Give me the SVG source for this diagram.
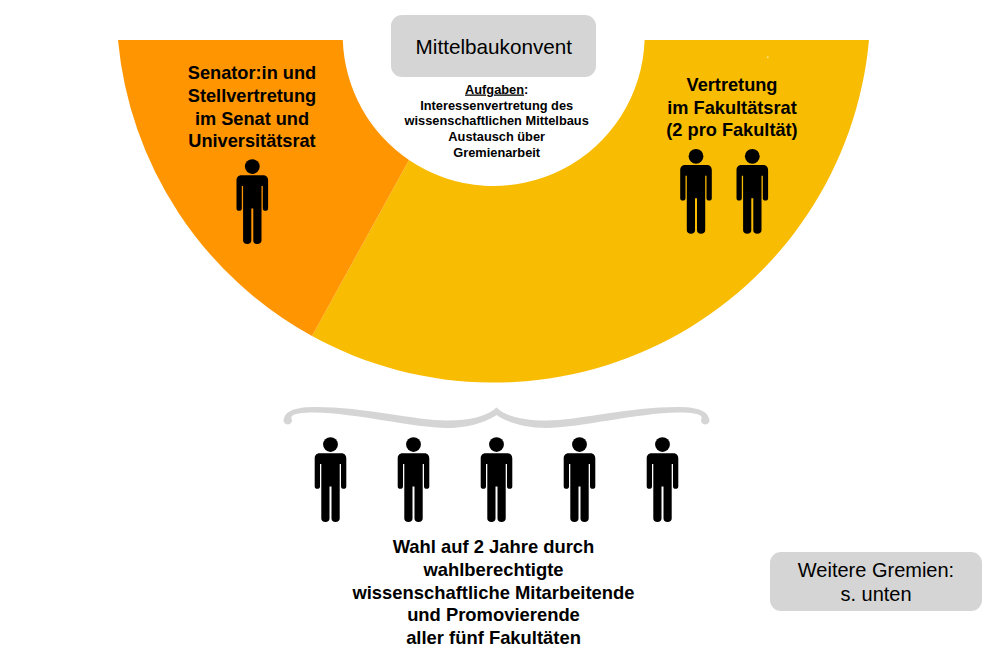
<svg xmlns="http://www.w3.org/2000/svg" width="992" height="663" viewBox="0 0 992 663">
<style>
text{font-family:"Liberation Sans",Arial,sans-serif;fill:#000;text-anchor:middle}
.h{font-size:18.2px;font-weight:bold}
.s{font-size:12.8px;font-weight:bold}
.b{font-size:20px}
.t{font-size:20.7px}
.w{font-size:18.4px;font-weight:bold}
.box{fill:#d5d5d5}
</style>
<defs>
<symbol id="p" overflow="visible">
<circle cx="0" cy="-77.400" r="7.400" fill="#000"/>
<path d="M-11-68.700H11C14-68.700 15.800-66.500 15.800-63.500V-35.500C15.800-34 14.800-33.200 13.200-33.200C11.500-33.200 10.500-34 10.500-35.500V-58H9.200V-3.500C9.200-1.200 7.500 0 5 0C2.500 0 1-1.200 1-3.500V-35.500H-1V-3.500C-1-1.200-2.500 0-5 0C-7.500 0-9.200-1.200-9.200-3.500V-58H-10.500V-35.500C-10.500-34-11.500-33.200-13.200-33.200C-14.800-33.200-15.800-34-15.800-35.500V-63.500C-15.800-66.500-14-68.700-11-68.700Z" fill="#000"/>
</symbol>
</defs>
<rect width="992" height="663" fill="#fff"/>
<g id="arc-yellow"><path d="M644.600 40H869A377 377 0 0 1 312 336L409 160A151 151 0 0 0 644.600 40Z" fill="#f8bc03"/><rect x="767" y="56.500" width="1.500" height="1.500" fill="#fde7a0"/></g>
<g id="arc-orange"><path d="M118 40H342.800A151 151 0 0 0 409 160L312 336A377 377 0 0 1 118 40Z" fill="#ff9500"/></g>
<g id="mittelbaukonvent"><rect class="box" x="391" y="15" width="205" height="62" rx="11"/><text class="t" x="493.800" y="53.500">Mittelbaukonvent</text></g>
<g id="aufgaben">
<text class="s" x="496.700" y="93.500"><tspan text-decoration="underline">Aufgaben</tspan>:</text>
<text class="s" x="496.700" y="109.500">Interessenvertretung des</text>
<text class="s" x="496.700" y="125">wissenschaftlichen Mittelbaus</text>
<text class="s" x="496.700" y="141">Austausch über</text>
<text class="s" x="496.700" y="157">Gremienarbeit</text>
</g>
<g id="senator">
<text class="h" x="252" y="79">Senator:in und</text>
<text class="h" x="252" y="102">Stellvertretung</text>
<text class="h" x="252" y="124.500">im Senat und</text>
<text class="h" x="252" y="147">Universitätsrat</text>
<use href="#p" x="252.300" y="244"/>
</g>
<g id="vertretung">
<text class="h" x="732" y="91">Vertretung</text>
<text class="h" x="732" y="113.500">im Fakultätsrat</text>
<text class="h" x="732" y="136">(2 pro Fakultät)</text>
<use href="#p" x="696" y="233.700"/>
<use href="#p" x="752.300" y="233.700"/>
</g>
<g id="klammer"><path d="M496.500 407.500C488 416 470 420.500 447 420.500C415 420.500 365 407 315 407C298 407 286 410 284 418.500A4.200 4.200 0 1 0 291.500 418.500C290 414 300 412.500 315 412.500C355 413 415 428 447 428C470 428 488 421 496.500 415C505 421 523 428 546 428C578 428 638 413 678 412.500C693 412.500 703 414 701.500 418.500A4.200 4.200 0 1 0 709 418.500C707 410 695 407 678 407C628 407 578 420.500 546 420.500C523 420.500 505 416 496.500 407.500Z" fill="#d5d5d5"/></g>
<g id="waehler">
<use href="#p" x="330.500" y="522"/>
<use href="#p" x="413.500" y="522"/>
<use href="#p" x="496.500" y="522"/>
<use href="#p" x="579.500" y="522"/>
<use href="#p" x="662.500" y="522"/>
<text class="w" x="493.500" y="553">Wahl auf 2 Jahre durch</text>
<text class="w" x="493.500" y="575.500">wahlberechtigte</text>
<text class="w" x="493.500" y="598.500">wissenschaftliche Mitarbeitende</text>
<text class="w" x="493.500" y="621">und Promovierende</text>
<text class="w" x="493.500" y="644">aller fünf Fakultäten</text>
</g>
<g id="weitere"><rect class="box" x="770" y="552" width="212" height="59" rx="11"/>
<text class="b" x="876" y="577">Weitere Gremien:</text>
<text class="b" x="876" y="601">s. unten</text></g>
</svg>
